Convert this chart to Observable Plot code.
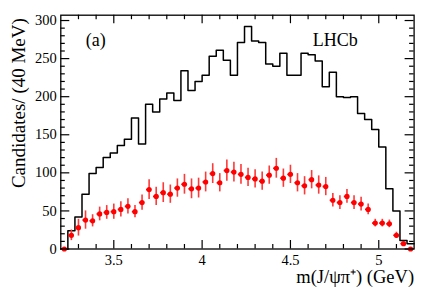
<!DOCTYPE html>
<html>
<head>
<meta charset="utf-8">
<script src="https://cdn.jsdelivr.net/npm/d3@7"></script>
<script src="https://cdn.jsdelivr.net/npm/@observablehq/plot@0.6"></script>
<style>
  html, body { margin: 0; padding: 0; background: #fff; }
  svg text { font-family: 'Liberation Serif', 'Times New Roman', serif !important; }
</style>
</head>
<body>
<div id="chart"></div>
<script>
// Bin centres (GeV), 40 MeV bins from 3.2 to 5.2
const binCenters = [3.22,3.26,3.30,3.34,3.38,3.42,3.46,3.50,3.54,3.58,
  3.62,3.66,3.70,3.74,3.78,3.82,3.86,3.90,3.94,3.98,
  4.02,4.06,4.10,4.14,4.18,4.22,4.26,4.30,4.34,4.38,
  4.42,4.46,4.50,4.54,4.58,4.62,4.66,4.70,4.74,4.78,
  4.82,4.86,4.90,4.94,4.98,5.02,5.06,5.10,5.14,5.18];
const binWidth = 0.04;

// Black histogram (counts per bin)
const histCounts = [0,24,42,72,99,107,120,126,136,144,
  172,138,190,180,197,205,195,234,208,220,
  228,253,261,248,228,271,292,273,271,243,
  240,257,228,228,257,255,247,213,232,200,
  199,200,178,170,157,134,79,50,11,7];

// Red points with errors
const redValues = [0,18,28,38,37,46,48,49,52,56,
  49,61,78,69,74,72,80,85,79,80,
  88,99,87,103,101,98,94,92,89,97,
  106,93,98,87,83,91,84,82,64,61,
  69,61,59,52,34,34,33,18,7,0];
const redErrors = [0,7,11,12,8,9,9,10,10,10,
  8,10,13,12,13,12,12,13,13,13,
  13,13,12,14,13,13,12,12,12,12,
  13,12,12,12,12,12,12,12,9,9,
  9,9,9,7,5,5,5,4,2,0];

// Axis ticks
const xTickValues = [3.5, 4, 4.5, 5];
const xTickLabels = ["3.5", "4", "4.5", "5"];
const yTickValues = [0, 50, 100, 150, 200, 250, 300];
const yTickLabels = ["0", "50", "100", "150", "200", "250", "300"];
const xMinorTicks = d3.range(3.2, 5.2001, 0.1).map(v => +v.toFixed(2));
const yMinorTicks = d3.range(0, 301, 10);

const xTitle = "m(J/ψπ⁺) (GeV)";
const yTitle = "Candidates/ (40 MeV)";
const panelLabel = "(a)";
const expLabel = "LHCb";

// Derived tables
const histLine = binCenters.map((c, i) => ({x: c - binWidth / 2, y: histCounts[i]}));
histLine.push({x: binCenters[binCenters.length - 1] + binWidth / 2, y: histCounts[histCounts.length - 1]});
const points = binCenters.map((c, i) => ({x: c, y: redValues[i], e: redErrors[i]}));

const W = 436, H = 296;
const mL = 60.3, mR = 22.4, mT = 14.7, mB = 47.5;
const pw = W - mL - mR, ph = H - mT - mB;
const font = "'Liberation Serif', 'Times New Roman', serif";

const isMajorX = v => xTickValues.some(t => Math.abs(t - v) < 1e-6);
const isMajorY = v => yTickValues.includes(v);
const xMin = xMinorTicks.filter(v => !isMajorX(v) && v > 3.2 && v < 5.2);
const yMin = yMinorTicks.filter(v => !isMajorY(v));

const plot = Plot.plot({
  width: W, height: H,
  marginLeft: mL, marginRight: mR, marginTop: mT, marginBottom: mB,
  x: {domain: [3.2, 5.2]},
  y: {domain: [0, 307]},
  style: {fontFamily: font, background: "white", color: "black", overflow: "visible"},
  marks: [
    Plot.axisX(xTickValues, {tickSize: 0, tickPadding: 6, fontSize: 14.5, fontFamily: font, tickFormat: (d, i) => xTickLabels[i], label: null}),
    Plot.axisY(yTickValues, {tickSize: 0, tickPadding: 4, fontSize: 14.5, fontFamily: font, tickFormat: (d, i) => yTickLabels[i], label: null}),
    // inward ticks bottom / top
    Plot.ruleX(xTickValues, {insetTop: ph - 8.5, stroke: "black", strokeWidth: 1.2}),
    Plot.ruleX(xMin, {insetTop: ph - 4.5, stroke: "black", strokeWidth: 1.2}),
    Plot.ruleX(xTickValues, {insetBottom: ph - 8.5, stroke: "black", strokeWidth: 1.2}),
    Plot.ruleX(xMin, {insetBottom: ph - 4.5, stroke: "black", strokeWidth: 1.2}),
    // inward ticks left / right
    Plot.ruleY(yTickValues, {insetRight: pw - 9, stroke: "black", strokeWidth: 1.2}),
    Plot.ruleY(yMin, {insetRight: pw - 4.5, stroke: "black", strokeWidth: 1.2}),
    Plot.ruleY(yTickValues, {insetLeft: pw - 9, stroke: "black", strokeWidth: 1.2}),
    Plot.ruleY(yMin, {insetLeft: pw - 4.5, stroke: "black", strokeWidth: 1.2}),
    // histogram
    Plot.line(histLine, {x: "x", y: "y", curve: "step-after", stroke: "black", strokeWidth: 1.5}),
    // red points
    Plot.ruleX(points, {x: "x", y1: d => d.y - d.e, y2: d => d.y + d.e, stroke: "#ff3838", strokeWidth: 1.6}),
    Plot.ruleY(points, {y: "y", x1: d => d.x - 0.015, x2: d => d.x + 0.015, stroke: "#ff0000", strokeWidth: 1.6}),
    Plot.dot(points, {x: "x", y: "y", r: 2.6, fill: "#ff0000", stroke: "none"}),
    // frame
    Plot.frame({stroke: "black", strokeWidth: 1.3}),
    // texts
    Plot.text([panelLabel], {frameAnchor: "top-left", dx: 25, dy: 18, textAnchor: "start", fontSize: 18, fontFamily: font}),
    Plot.text([expLabel], {frameAnchor: "top-left", dx: 252, dy: 18, textAnchor: "start", fontSize: 18, fontFamily: font}),
    Plot.text([xTitle], {frameAnchor: "bottom-right", dx: 0, dy: 34, textAnchor: "end", fontSize: 18.5, fontFamily: font}),
    Plot.text([yTitle], {frameAnchor: "left", dx: -42, dy: -29, rotate: -90, textAnchor: "middle", fontSize: 19, fontFamily: font})
  ]
});
document.getElementById("chart").appendChild(plot);
</script>
</body>
</html>
